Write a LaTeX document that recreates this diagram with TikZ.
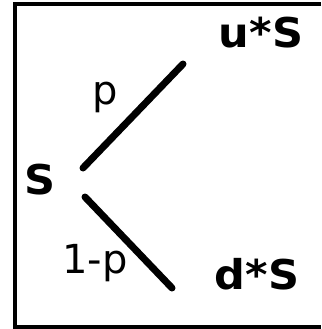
\documentclass[tikz,border=0pt]{standalone}
\usepackage{fontspec}
\setmainfont{DejaVu Sans}
\usetikzlibrary{positioning}
\tikzset{
price/.style={
font=\fontsize{41}{44}\selectfont\bfseries,
inner sep=0pt,
anchor=base,
xscale=1.05,
transform shape
},
prob/.style={
font=\fontsize{40}{44}\selectfont,
inner sep=0pt,
anchor=base
},
branch/.style={
line width=7pt,
line cap=round
},
frameline/.style={
line width=3.5pt
}
}
\begin{document}
\begin{tikzpicture}[x=1pt,y=-1pt]
\useasboundingbox (0,0) rectangle (321,329);
\draw[frameline](321,4)--(15,4)--(15,327)--(321,327);

\node[price](s) at (40,194){S};
\node[price](us) at (261,48){u*S};
\node[price](ds) at (257,289){d*S};

\coordinate(up0) at (83,168);
\coordinate(up1) at (183,64);
\coordinate(dn0) at (85,197);
\coordinate(dn1) at (172,288);

\draw[branch](up0)--(up1);
\draw[branch](dn0)--(dn1);

\node[prob](p) at (105,104){p};
\node[prob](q) at (95,273){1-p};
\end{tikzpicture}
\end{document}
